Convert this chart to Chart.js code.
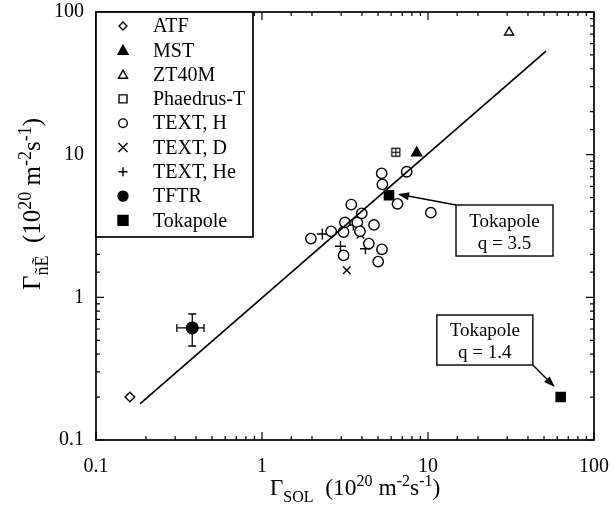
<!DOCTYPE html>
<html>
<head>
<meta charset="utf-8">
<script src="https://cdn.jsdelivr.net/npm/chart.js@4/dist/chart.umd.min.js"></script>
<style>
  html, body { margin: 0; padding: 0; background: #fff; }
</style>
</head>
<body>
<canvas id="chart" width="614" height="525"></canvas>
<script>
/* ---- data ---- */
const axisTicks = [0.1, 1, 10, 100];

const atfX = [0.16];            const atfY = [0.20];
const mstX = [8.55];            const mstY = [10.3];
const zt40mX = [30.8];          const zt40mY = [72];
const phaedrusX = [6.4];        const phaedrusY = [10.4];
const textHX = [1.97, 2.61, 3.10, 3.16, 3.45, 3.75, 3.99, 3.89, 4.73, 4.40, 5.28, 3.10, 5.01, 6.55, 5.26, 5.31, 7.44, 10.4];
const textHY = [2.58, 2.90, 2.87, 3.35, 4.47, 3.35, 3.88, 2.90, 3.22, 2.38, 2.17, 1.97, 1.78, 4.52, 7.40, 6.19, 7.59, 3.92];
const textDX = [3.24, 3.92];    const textDY = [1.55, 2.75];
const textHeX = [2.31, 2.97, 3.55, 4.20];
const textHeY = [2.78, 2.28, 3.21, 2.19];
const tftrX = [0.38];           const tftrY = [0.61];
const tftrXLo = [0.307];        const tftrXHi = [0.447];
const tftrYLo = [0.456];        const tftrYHi = [0.764];
const tokapoleX = [5.82, 63];   const tokapoleY = [5.2, 0.2];
const fitX = [0.184, 51.4];     const fitY = [0.179, 53.2];

const legendNames = ['ATF', 'MST', 'ZT40M', 'Phaedrus-T', 'TEXT, H', 'TEXT, D', 'TEXT, He', 'TFTR', 'Tokapole'];

const notes = [
  { lines: ['Tokapole', 'q = 3.5'], x: 28.9, y: 2.94, w: 97, h: 51, point: 0, from: 'tl', tipDx: 9, tipDy: -1 },
  { lines: ['Tokapole', 'q = 1.4'], x: 22.0, y: 0.502, w: 96, h: 50, point: 1, from: 'br', tipDx: -6, tipDy: -10 }
];

const SERIF = '"Liberation Serif", "DejaVu Serif", serif';
const zip = (xs, ys) => xs.map((x, i) => ({ x, y: ys[i] }));

/* Phaedrus-T symbol on the plot: small square with a cross inside */
const phaedrusImg = document.createElement('canvas');
phaedrusImg.width = 11; phaedrusImg.height = 11;
(function(){
  const g = phaedrusImg.getContext('2d');
  g.strokeStyle = '#000'; g.lineWidth = 1.2;
  g.strokeRect(1.5, 1.5, 8, 8);
  g.beginPath(); g.moveTo(5.5, 1.5); g.lineTo(5.5, 9.5); g.moveTo(1.5, 5.5); g.lineTo(9.5, 5.5); g.stroke();
})();

function pts(label, xs, ys, style, r, filled){
  return {
    label, data: zip(xs, ys), showLine: false,
    pointStyle: style, pointRadius: r, pointHoverRadius: r,
    pointBorderColor: '#000', pointBackgroundColor: filled ? '#000' : '#fff',
    pointBorderWidth: 1.4
  };
}

const datasets = [
  { label: 'fit', data: zip(fitX, fitY), showLine: true, borderColor: '#000', borderWidth: 1.7, pointRadius: 0, fill: false },
  pts('ATF', atfX, atfY, 'rectRot', 4.8, false),
  pts('MST', mstX, mstY, 'triangle', 5.8, true),
  pts('ZT40M', zt40mX, zt40mY, 'triangle', 5.2, false),
  pts('Phaedrus-T', phaedrusX, phaedrusY, phaedrusImg, 5, false),
  pts('TEXT, H', textHX, textHY, 'circle', 5.2, false),
  pts('TEXT, D', textDX, textDY, 'crossRot', 5.3, false),
  pts('TEXT, He', textHeX, textHeY, 'cross', 5.5, false),
  pts('TFTR', tftrX, tftrY, 'circle', 5.8, true),
  pts('Tokapole', tokapoleX, tokapoleY, 'rect', 6.5, true)
];

/* ---- helpers ---- */
function isDecade(v){ const l = Math.log10(v); return Math.abs(l - Math.round(l)) < 1e-6; }

function marker(ctx, style, x, y, r, filled){
  ctx.save();
  ctx.lineWidth = 1.4; ctx.strokeStyle = '#000'; ctx.fillStyle = filled ? '#000' : '#fff';
  ctx.beginPath();
  if (style === 'circle') ctx.arc(x, y, r, 0, Math.PI * 2);
  else if (style === 'rect') ctx.rect(x - r, y - r, 2 * r, 2 * r);
  else if (style === 'rectRot') { ctx.moveTo(x, y - r); ctx.lineTo(x + r, y); ctx.lineTo(x, y + r); ctx.lineTo(x - r, y); ctx.closePath(); }
  else if (style === 'triangle') { ctx.moveTo(x, y - r); ctx.lineTo(x + r, y + r * 0.8); ctx.lineTo(x - r, y + r * 0.8); ctx.closePath(); }
  else if (style === 'cross') { ctx.moveTo(x - r, y); ctx.lineTo(x + r, y); ctx.moveTo(x, y - r); ctx.lineTo(x, y + r); }
  else if (style === 'crossRot') { ctx.moveTo(x - r, y - r); ctx.lineTo(x + r, y + r); ctx.moveTo(x + r, y - r); ctx.lineTo(x - r, y + r); }
  if (style !== 'cross' && style !== 'crossRot') ctx.fill();
  ctx.stroke();
  ctx.restore();
}

function richText(ctx, parts, size){
  // parts: [text, kind] kind: 'n' normal, 'b' subscript, 'p' superscript
  let w = 0;
  parts.forEach(p => {
    ctx.font = (p[1] === 'n' ? size : Math.round(size * 0.7)) + 'px ' + SERIF;
    w += ctx.measureText(p[0]).width;
  });
  let x = -w / 2;
  parts.forEach(p => {
    const s = p[1] === 'n' ? size : Math.round(size * 0.7);
    ctx.font = s + 'px ' + SERIF;
    const dy = p[1] === 'b' ? size * 0.3 : p[1] === 'p' ? -size * 0.38 : 0;
    ctx.fillText(p[0], x, dy);
    x += ctx.measureText(p[0]).width;
  });
}

function arrow(ctx, x0, y0, x1, y1){
  const a = Math.atan2(y1 - y0, x1 - x0), L = 11, W = 4;
  ctx.beginPath(); ctx.moveTo(x0, y0); ctx.lineTo(x1 - L * 0.8 * Math.cos(a), y1 - L * 0.8 * Math.sin(a)); ctx.stroke();
  ctx.beginPath();
  ctx.moveTo(x1, y1);
  ctx.lineTo(x1 - L * Math.cos(a) + W * Math.sin(a), y1 - L * Math.sin(a) - W * Math.cos(a));
  ctx.lineTo(x1 - L * Math.cos(a) - W * Math.sin(a), y1 - L * Math.sin(a) + W * Math.cos(a));
  ctx.closePath(); ctx.fill();
}

/* ---- decorations: frame, inward ticks, error bars, legend, notes, titles ---- */
const decor = {
  id: 'decor',
  afterDatasetsDraw(chart){
    const { ctx, chartArea: ca, scales: { x, y } } = chart;
    ctx.save();
    ctx.strokeStyle = '#000'; ctx.fillStyle = '#000';

    // error bars for TFTR
    ctx.lineWidth = 1.3;
    tftrX.forEach((v, i) => {
      const px = x.getPixelForValue(v), py = y.getPixelForValue(tftrY[i]);
      const xl = x.getPixelForValue(tftrXLo[i]), xh = x.getPixelForValue(tftrXHi[i]);
      const yl = y.getPixelForValue(tftrYLo[i]), yh = y.getPixelForValue(tftrYHi[i]);
      ctx.beginPath();
      ctx.moveTo(xl, py); ctx.lineTo(xh, py);
      ctx.moveTo(xl, py - 4); ctx.lineTo(xl, py + 4);
      ctx.moveTo(xh, py - 4); ctx.lineTo(xh, py + 4);
      ctx.moveTo(px, yl); ctx.lineTo(px, yh);
      ctx.moveTo(px - 4, yl); ctx.lineTo(px + 4, yl);
      ctx.moveTo(px - 4, yh); ctx.lineTo(px + 4, yh);
      ctx.stroke();
    });

    // frame
    ctx.lineWidth = 1.7;
    ctx.strokeRect(ca.left, ca.top, ca.right - ca.left, ca.bottom - ca.top);

    // inward ticks on all four sides
    ctx.lineWidth = 1.2;
    ctx.beginPath();
    x.ticks.forEach(t => {
      const p = x.getPixelForValue(t.value), len = isDecade(t.value) ? 8 : 4;
      ctx.moveTo(p, ca.bottom); ctx.lineTo(p, ca.bottom - len);
      ctx.moveTo(p, ca.top); ctx.lineTo(p, ca.top + len);
    });
    y.ticks.forEach(t => {
      const p = y.getPixelForValue(t.value), len = isDecade(t.value) ? 8 : 4;
      ctx.moveTo(ca.left, p); ctx.lineTo(ca.left + len, p);
      ctx.moveTo(ca.right, p); ctx.lineTo(ca.right - len, p);
    });
    ctx.stroke();

    // legend box
    const lx = ca.left, ly = ca.top, lw = 157, lh = 225;
    ctx.fillStyle = '#fff';
    ctx.fillRect(lx, ly, lw, lh);
    ctx.lineWidth = 1.7; ctx.strokeStyle = '#000';
    ctx.strokeRect(lx, ly, lw, lh);
    const styles = [['rectRot', 4, false], ['triangle', 5, true], ['triangle', 4.5, false], ['rect', 4, false],
                    ['circle', 4.3, false], ['crossRot', 4.5, false], ['cross', 4.5, false], ['circle', 5, true], ['rect', 5, true]];
    ctx.font = '20px ' + SERIF; ctx.textBaseline = 'middle'; ctx.textAlign = 'left';
    legendNames.forEach((name, i) => {
      const yy = ly + 14 + i * 24.3;
      marker(ctx, styles[i][0], lx + 27, yy, styles[i][1], styles[i][2]);
      ctx.fillStyle = '#000';
      ctx.fillText(name, lx + 57, yy + 1);
    });

    // Tokapole call-outs
    notes.forEach(n => {
      const cx = x.getPixelForValue(n.x), cy = y.getPixelForValue(n.y);
      const bx = cx - n.w / 2, by = cy - n.h / 2;
      ctx.fillStyle = '#fff'; ctx.fillRect(bx, by, n.w, n.h);
      ctx.lineWidth = 1.4; ctx.strokeRect(bx, by, n.w, n.h);
      ctx.fillStyle = '#000'; ctx.textAlign = 'center'; ctx.font = '19px ' + SERIF;
      ctx.fillText(n.lines[0], cx, cy - 9);
      ctx.fillText(n.lines[1], cx, cy + 13);
      const tx = x.getPixelForValue(tokapoleX[n.point]) + n.tipDx;
      const ty = y.getPixelForValue(tokapoleY[n.point]) + n.tipDy;
      const sx = n.from === 'tl' ? bx : bx + n.w, sy = n.from === 'tl' ? by : by + n.h;
      ctx.lineWidth = 1.4;
      arrow(ctx, sx, sy, tx, ty);
    });

    // axis titles
    ctx.fillStyle = '#000'; ctx.textAlign = 'left'; ctx.textBaseline = 'alphabetic';
    ctx.save();
    ctx.translate(355, 495);
    richText(ctx, [['\u0393', 'n'], ['SOL', 'b'], ['  (10', 'n'], ['20', 'p'], [' m', 'n'], ['-2', 'p'], ['s', 'n'], ['-1', 'p'], [')', 'n']], 23.5);
    ctx.restore();
    ctx.save();
    ctx.translate(40, 204);
    ctx.rotate(-Math.PI / 2);
    richText(ctx, [['\u0393', 'n'], ['\u00f1\u1ebc', 'b'], ['  (10', 'n'], ['20', 'p'], [' m', 'n'], ['-2', 'p'], ['s', 'n'], ['-1', 'p'], [')', 'n']], 25);
    ctx.restore();

    ctx.restore();
  }
};

function axis(pos){
  return {
    type: 'logarithmic', position: pos, min: 0.1, max: 100,
    grid: { display: false, drawTicks: false },
    border: { display: false },
    ticks: {
      autoSkip: false, maxRotation: 0, color: '#000',
      font: { family: SERIF, size: 20 },
      padding: pos === 'bottom' ? 15 : 12,
      callback: v => axisTicks.includes(+(+v).toPrecision(6)) ? String(+(+v).toPrecision(6)) : ''
    },
    afterFit: s => {
      if (pos === 'bottom') { s.height = 85; s.paddingLeft = 0; s.paddingRight = 0; }
      else { s.width = 96; s.paddingTop = 0; s.paddingBottom = 0; }
    }
  };
}

new Chart(document.getElementById('chart'), {
  type: 'scatter',
  data: { datasets },
  options: {
    responsive: false, animation: false, devicePixelRatio: 1,
    layout: { padding: { top: 12, right: 20, left: 0, bottom: 0 } },
    plugins: { legend: { display: false }, tooltip: { enabled: false } },
    scales: { x: axis('bottom'), y: axis('left') }
  },
  plugins: [decor]
});
</script>
</body>
</html>
